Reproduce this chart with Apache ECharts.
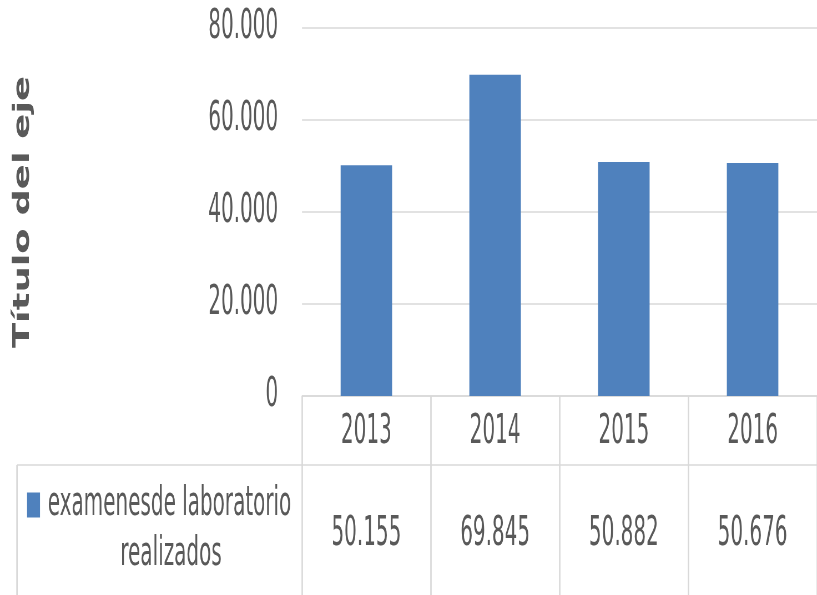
<!DOCTYPE html>
<html>
<head>
<meta charset="utf-8">
<script src="https://cdn.jsdelivr.net/npm/echarts@6/dist/echarts.min.js"></script>
<style>
  html, body { margin: 0; padding: 0; background: #fff; overflow: hidden; }
  /* the reference is squeezed sideways, so draw wide and squeeze */
  #chart { width: 1472px; height: 595px; transform: scaleX(0.555); transform-origin: 0 0; }
</style>
</head>
<body>
<div id="chart"></div>
<script>
  // datos
  const years = ['2013', '2014', '2015', '2016']
  const examenes = [50155, 69845, 50882, 50676]
  const seriesName = 'examenesde laboratorio realizados'

  const gray = '#595959'
  const lineColor = '#D9D9D9'
  const font = '"DejaVu Sans Condensed", "Liberation Sans Narrow", sans-serif'
  const W = 1472
  const sx = 1 / 0.555 // scaled x -> canvas x

  // 50155 -> 50.155
  function fmt(v) {
    return String(v).replace(/\B(?=(\d{3})+(?!\d))/g, '.')
  }

  const chart = echarts.init(document.getElementById('chart'))
  const option = {
    animation: false,
    grid: {
      left: 302 * sx,
      right: W - 823 * sx,
      top: 28,
      bottom: 595 - 396,
    },
    legend: {
      left: 27 * sx,
      top: 485,
      padding: 0,
      icon: 'rect',
      itemWidth: 13 * sx,
      itemHeight: 25,
      formatter: function () {
        return 'examenesde laboratorio'
      },
      textStyle: { fontFamily: font, fontSize: 40, color: gray, padding: [0, 0, 0, 9] },
      data: [seriesName],
    },
    xAxis: [
      {
        type: 'category',
        data: years,
        axisLine: { lineStyle: { color: lineColor, width: 1.5 } },
        axisTick: { show: true, length: 199, lineStyle: { color: lineColor, width: 2.7 } },
        axisLabel: { fontFamily: font, fontSize: 40, color: gray, margin: 17 },
      },
      {
        type: 'category',
        position: 'bottom',
        data: years,
        axisLine: { show: false },
        axisTick: { show: false },
        axisLabel: {
          fontFamily: font,
          fontSize: 40,
          color: gray,
          margin: 119,
          formatter: function (v, i) {
            return fmt(examenes[i])
          },
        },
      },
    ],
    yAxis: {
      type: 'value',
      min: 0,
      max: 80000,
      interval: 20000,
      name: 'Título del eje',
      nameLocation: 'middle',
      nameGap: 482,
      nameTextStyle: { fontFamily: '"DejaVu Sans Condensed", "DejaVu Sans", sans-serif', fontWeight: 'bold', fontSize: 41, color: gray },
      axisLine: { show: false },
      axisTick: { show: false },
      axisLabel: {
        fontFamily: font,
        fontSize: 40,
        color: gray,
        margin: 43,
        formatter: function (v) {
          return fmt(v)
        },
      },
      splitLine: { lineStyle: { color: lineColor, width: 1.5 } },
    },
    series: [
      {
        name: seriesName,
        type: 'bar',
        barWidth: '40%',
        itemStyle: { color: '#4F81BD' },
        data: examenes,
      },
    ],
    graphic: [
      // tabla de datos: borde superior y lateral de la fila
      {
        type: 'line',
        shape: { x1: 17 * sx, y1: 465, x2: W, y2: 465 },
        style: { stroke: lineColor, lineWidth: 1.5 },
      },
      {
        type: 'line',
        shape: { x1: 17 * sx, y1: 465, x2: 17 * sx, y2: 595 },
        style: { stroke: lineColor, lineWidth: 2.7 },
      },
      {
        type: 'text',
        x: 171 * sx,
        y: 555,
        style: {
          text: 'realizados',
          fontFamily: font,
          fontSize: 40,
          fill: gray,
          align: 'center',
          verticalAlign: 'middle',
        },
      },
    ],
  }
  chart.setOption(option)
</script>
</body>
</html>
